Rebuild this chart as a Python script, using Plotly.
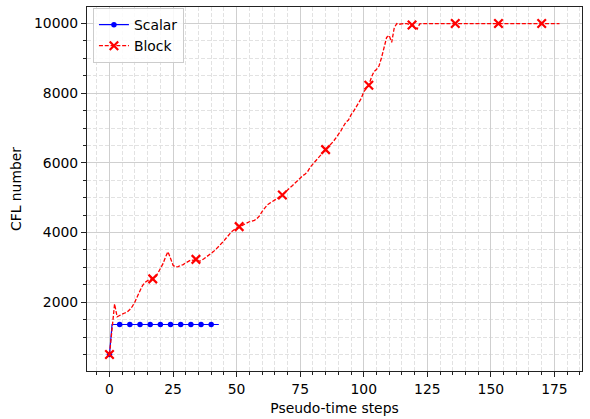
import plotly.graph_objects as go

# CFL number history for the scalar and block pseudo-time solvers
scalar_steps = list(range(0, 44))
scalar_cfl = [500] + [1360] * 43

block_steps = list(range(0, 178))
block_cfl = [
    500, 1250, 1950, 1580, 1630, 1660, 1690, 1720, 1790, 1880,
    2010, 2150, 2330, 2480, 2570, 2620, 2650, 2670, 2720, 2830,
    2960, 3100, 3290, 3450, 3260, 3060, 3010, 3020, 3060, 3080,
    3130, 3180, 3210, 3200, 3230, 3180, 3190, 3240, 3290, 3350,
    3400, 3460, 3530, 3600, 3670, 3760, 3850, 3940, 4020, 4080,
    4120, 4170, 4200, 4240, 4290, 4310, 4330, 4350, 4400, 4480,
    4600, 4700, 4790, 4840, 4880, 4930, 4980, 5040, 5080, 5150,
    5230, 5290, 5350, 5420, 5500, 5570, 5630, 5680, 5760, 5880,
    5970, 6060, 6150, 6230, 6300, 6380, 6450, 6530, 6610, 6710,
    6810, 6920, 7050, 7170, 7230, 7380, 7480, 7600, 7710, 7850,
    8040, 8120, 8230, 8450, 8620, 8680, 8780, 9020, 9330, 9600,
    9660, 9460, 9880, 10000, 9980, 10000, 10000, 10000, 9980, 9960,
    9920, 9840, 9990,
] + [10000] * 55

scalar_mark_every = 4
block_mark_every = 17

x_ticks = [0, 25, 50, 75, 100, 125, 150, 175]
y_ticks = [2000, 4000, 6000, 8000, 10000]
y_tick_labels = ["2000", "4000", "6000", "8000", "10000"]

FONT = "DejaVu Sans"
FS = 13.9

fig = go.Figure()

# Scalar: solid blue line with point markers
fig.add_trace(go.Scatter(
    x=scalar_steps, y=scalar_cfl, mode="lines",
    line=dict(color="blue", width=1.2), showlegend=False, hoverinfo="skip"))
fig.add_trace(go.Scatter(
    x=scalar_steps[::scalar_mark_every], y=scalar_cfl[::scalar_mark_every],
    mode="markers", marker=dict(color="blue", size=5.5, symbol="circle"),
    showlegend=False))

# Block: dashed red line with x markers
fig.add_trace(go.Scatter(
    x=block_steps, y=block_cfl, mode="lines",
    line=dict(color="red", width=1.3, dash="4px,1.8px"),
    showlegend=False, hoverinfo="skip"))
fig.add_trace(go.Scatter(
    x=block_steps[::block_mark_every], y=block_cfl[::block_mark_every],
    mode="markers",
    marker=dict(color="red", size=8.5, symbol="x-thin",
                line=dict(color="red", width=2.2)),
    showlegend=False))

# Legend entries
fig.add_trace(go.Scatter(
    x=[None], y=[None], mode="lines+markers", name="Scalar",
    line=dict(color="blue", width=1.2),
    marker=dict(color="blue", size=5.5, symbol="circle")))
fig.add_trace(go.Scatter(
    x=[None], y=[None], mode="lines+markers", name="Block",
    line=dict(color="red", width=1.3, dash="4px,1.8px"),
    marker=dict(color="red", size=8.5, symbol="x-thin",
                line=dict(color="red", width=2.2))))

axis_common = dict(
    showline=True, linecolor="#222222", linewidth=1.2, mirror=True,
    ticks="outside", ticklen=4.9, tickwidth=1, tickcolor="#222222",
    showgrid=True, gridcolor="#cfcfcf", gridwidth=1.1,
    zeroline=False,
    tickfont=dict(family=FONT, size=FS, color="black"),
)

minor_common = dict(
    ticks="outside", ticklen=2.8, tickcolor="#222222",
    showgrid=True, gridcolor="#e2e2e2", griddash="4px,2px", gridwidth=0.8,
)

fig.update_xaxes(
    **axis_common,
    range=[-8.85, 185.85], tickvals=x_ticks,
    minor=dict(dtick=5, tick0=0, **minor_common),
    title=dict(text="Pseudo-time steps", font=dict(family=FONT, size=FS, color="black"),
               standoff=7),
)
fig.update_yaxes(
    **axis_common,
    range=[25, 10475], tickvals=y_ticks, ticktext=y_tick_labels,
    minor=dict(dtick=500, tick0=0, **minor_common),
    title=dict(text="CFL number", font=dict(family=FONT, size=FS, color="black"),
               standoff=9),
)

fig.update_layout(
    width=590, height=419,
    margin=dict(l=87, r=8, t=6, b=45),
    paper_bgcolor="white", plot_bgcolor="white",
    font=dict(family=FONT, size=FS, color="black"),
    legend=dict(
        x=0.012, y=0.997, xanchor="left", yanchor="top",
        bgcolor="rgba(255,255,255,0.85)", bordercolor="#cccccc", borderwidth=1,
        font=dict(family=FONT, size=FS, color="black"),
        tracegroupgap=0, itemwidth=30,
    ),
)

fig.write_html("out.html")
